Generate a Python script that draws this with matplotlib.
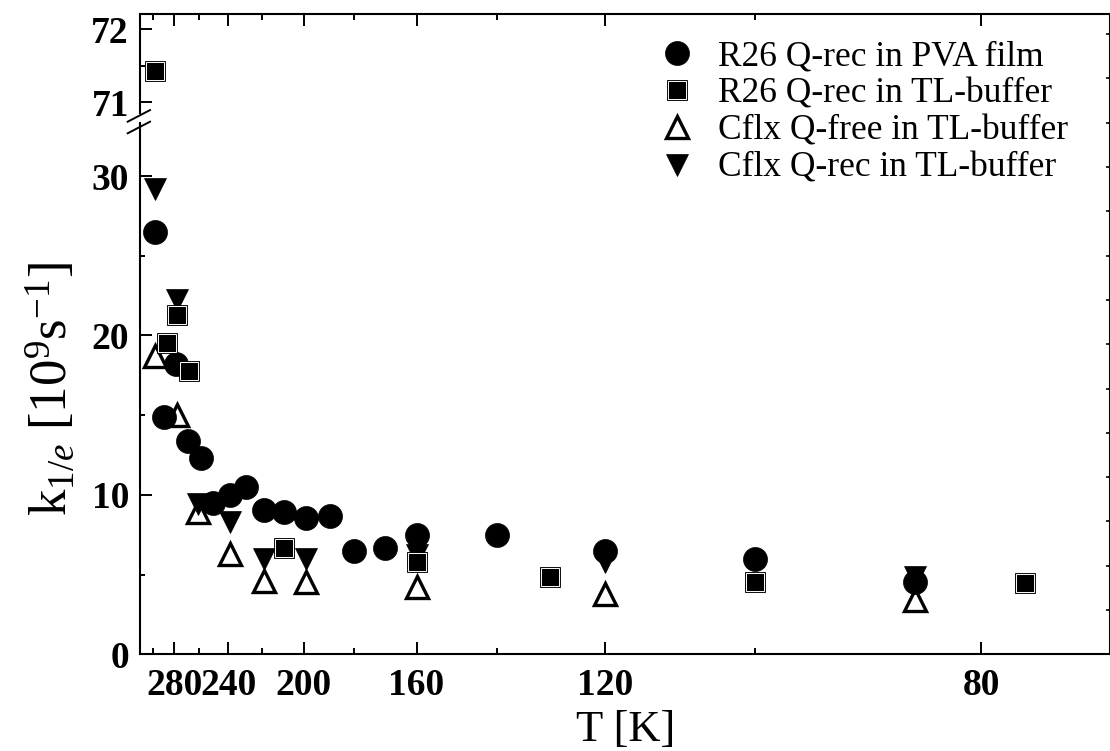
import numpy as np
import matplotlib.pyplot as plt
from matplotlib.lines import Line2D

plt.rcParams['font.family'] = ['Liberation Serif', 'DejaVu Serif']
plt.rcParams['mathtext.fontset'] = 'custom'
plt.rcParams['mathtext.rm'] = 'Liberation Serif'
plt.rcParams['mathtext.it'] = 'Liberation Serif:italic'

# R26 Q-rec in PVA film
T_pva = [297.5, 289, 279, 269, 258.5, 250, 239, 229, 219, 209, 199, 189,
         180, 169.5, 160, 140, 120, 100, 85]
k_pva = [26.5, 14.9, 18.2, 13.4, 12.3, 9.5, 10.0, 10.5, 9.05, 8.9, 8.55, 8.65,
         6.5, 6.65, 7.5, 7.5, 6.45, 6.0, 4.55]

# R26 Q-rec in TL-buffer
T_tl = [298, 287, 278, 268, 209, 160, 129.5, 100, 77]
k_tl = [71.43, 19.5, 21.3, 17.8, 6.65, 5.8, 4.83, 4.56, 4.5]

# Cflx Q-free in TL-buffer
T_free = [298, 278, 261, 239, 219, 199, 160, 120, 85]
k_free = [18.7, 15.0, 8.9, 6.3, 4.6, 4.55, 4.2, 3.8, 3.4]

# Cflx Q-rec in TL-buffer
T_rec = [298, 278, 261, 239, 219, 199, 160, 120, 85]
k_rec = [29.2, 22.2, 9.4, 8.3, 6.0, 6.0, 6.2, 5.8, 4.85]

labels = ['R26 Q-rec in PVA film', 'R26 Q-rec in TL-buffer',
          'Cflx Q-free in TL-buffer', 'Cflx Q-rec in TL-buffer']

T_major = [280, 240, 200, 160, 120, 80]
T_minor = [300, 260, 220, 180, 140, 100]


# x axis is linear in 1/T (Arrhenius-style), high T on the left
def fwd(t):
    t = np.asarray(t, dtype=float)
    with np.errstate(divide='ignore', invalid='ignore'):
        return -1000.0 / t


def inv(u):
    u = np.asarray(u, dtype=float)
    with np.errstate(divide='ignore', invalid='ignore'):
        return -1000.0 / u


W, H = 1110, 751
fig = plt.figure(figsize=(W / 100, H / 100), dpi=100)

x0, x1 = 140, 1110.5
ax_top = fig.add_axes([x0 / W, 1 - 113 / H, (x1 - x0) / W, (113 - 14) / H])
ax = fig.add_axes([x0 / W, 1 - 654.3 / H, (x1 - x0) / W, (654.3 - 123) / H])


def draw_series(a):
    a.plot(T_free, k_free, linestyle='none', marker='^', ms=15.5,
           mfc='white', mec='black', mew=2.4, zorder=3)
    a.plot(T_rec, k_rec, linestyle='none', marker='v', ms=16,
           mfc='black', mec='black', mew=0.5, zorder=4)
    a.plot(T_pva, k_pva, linestyle='none', marker='o', ms=17.3,
           mfc='black', mec='black', mew=0.5, zorder=5)
    a.plot(T_tl, k_tl, linestyle='none', marker='s', ms=13.8,
           mfc='black', mec='black', mew=0.6, zorder=6)
    a.plot(T_tl, k_tl, linestyle='none', marker='s', ms=12.4,
           mfc='black', mec='white', mew=0.7, zorder=7)


for a in (ax_top, ax):
    draw_series(a)
    a.set_xscale('function', functions=(fwd, inv))
    a.set_xlim(313.4, 71.8)
    a.set_xticks(T_major)
    a.set_xticks(T_minor, minor=True)
    a.spines['right'].set_visible(False)
    for s in a.spines.values():
        s.set_linewidth(1.5)
    a.tick_params(which='both', direction='in', width=1.4)
    a.tick_params(which='major', length=8.5)
    a.tick_params(which='minor', length=4.5)
    a.tick_params(axis='y', which='minor', length=3.5)
    a.tick_params(axis='y', labelsize=27, pad=8)

# upper panel of the broken axis
ax_top.set_ylim(70.854, 72.205)
ax_top.set_yticks([71, 72])
ax_top.set_yticks([71.5], minor=True)
ax_top.set_yticklabels(['71', '72'], fontweight='bold')
ax_top.spines['bottom'].set_visible(False)
ax_top.tick_params(axis='x', which='both', bottom=False, top=True,
                   labelbottom=False)

# lower panel
ax.set_ylim(0, 33.33)
ax.set_yticks([0, 10, 20, 30])
ax.set_yticks([5, 15, 25], minor=True)
ax.set_yticklabels(['0', '10', '20', '30'], fontweight='bold')
ax.spines['top'].set_visible(False)
ax.set_xticklabels([str(t) for t in T_major], fontsize=27, fontweight='bold')
ax.tick_params(axis='x', which='both', top=False, pad=10)
ax.set_xlabel('T [K]', fontsize=32, labelpad=5)
ax.set_ylabel(r'k$_{1/e}$ [10$^{9}$s$^{-1}$]', fontsize=38, labelpad=10)

# small ticks along the right edge
y_top, y_bot = 14, 654.3
axr = fig.add_axes([x0 / W, 1 - y_bot / H, (x1 - x0) / W, (y_bot - y_top) / H])
axr.patch.set_visible(False)
for side in ('left', 'top', 'bottom'):
    axr.spines[side].set_visible(False)
axr.spines['right'].set_linewidth(1.5)
axr.set_xticks([])
axr.set_ylim(0, (y_bot - y_top) / 44.3)
axr.set_yticks(np.arange(1, 15))
axr.yaxis.tick_right()
axr.tick_params(axis='y', direction='in', length=3, width=1.2, labelright=False)

# break marks on the left spine
for yb in (133.3, 121.7):
    fig.add_artist(Line2D([127.7 / W, 150 / W], [1 - yb / H, 1 - (yb - 11.6) / H],
                          transform=fig.transFigure, color='black', lw=1.4))

h = ax.get_lines()
handles = [h[2], (h[3], h[4]), h[0], h[1]]
fig.legend(handles, labels, loc='upper right', bbox_to_anchor=(1082 / W, 1 - 26 / H),
           frameon=False, fontsize=25.5, handletextpad=0.6, labelspacing=0.12,
           borderaxespad=0, handlelength=1.1)

fig.savefig('out.png', dpi=100)
